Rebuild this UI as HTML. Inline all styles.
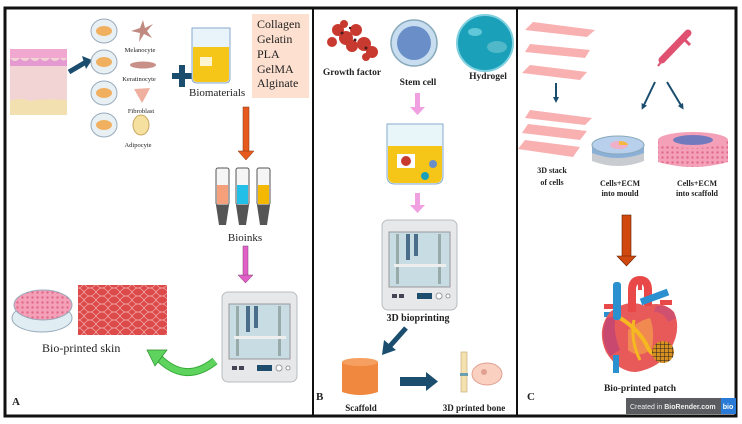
<!DOCTYPE html>
<html><head><meta charset="utf-8"><style>
html,body{margin:0;padding:0;background:#fff;}
svg{display:block;}
.s{font-family:"Liberation Serif",serif;fill:#222;}
.b{font-family:"Liberation Serif",serif;font-weight:bold;fill:#222;}
</style></head><body>
<svg width="742" height="424" viewBox="0 0 742 424" xmlns="http://www.w3.org/2000/svg">
<defs>
<pattern id="mesh" width="12" height="8" patternUnits="userSpaceOnUse">
<rect width="12" height="8" fill="#dd4a4a"/>
<path d="M0 4 Q3 0 6 0 Q9 0 12 4 M0 4 Q3 8 6 8 Q9 8 12 4" stroke="#f6c0c0" stroke-width="0.6" fill="none"/>
</pattern>
<pattern id="dots" width="5" height="5" patternUnits="userSpaceOnUse">
<rect width="5" height="5" fill="#f4a0b8"/><circle cx="2.5" cy="2.5" r="1.2" fill="#e06a8a"/>
</pattern>
<pattern id="grid" width="4" height="4" patternUnits="userSpaceOnUse">
<rect width="4" height="4" fill="#d89020"/><path d="M0 0H4M0 0V4" stroke="#222" stroke-width="1"/>
</pattern>
<g id="printer">
<rect x="0" y="0" width="75" height="90" rx="6" fill="#e6e8ea" stroke="#b8bcc0"/>
<rect x="7" y="12" width="61" height="55" fill="#c8dce4" stroke="#999"/>
<rect x="14" y="14" width="3" height="50" fill="#9aa"/>
<rect x="56" y="14" width="3" height="50" fill="#9aa"/>
<rect x="24" y="14" width="4" height="26" fill="#4a6d8a"/>
<rect x="32" y="14" width="4" height="22" fill="#4a6d8a"/>
<rect x="12" y="44" width="52" height="3" fill="#eee"/>
<rect x="10" y="74" width="5" height="4" fill="#445"/><rect x="17" y="74" width="5" height="4" fill="#445"/>
<rect x="35" y="73" width="15" height="6" fill="#1f4d6e"/>
<circle cx="57" cy="76" r="3" fill="#fff" stroke="#999"/><circle cx="66" cy="76" r="2" fill="#fff" stroke="#999"/>
</g>
<marker id="ab" viewBox="0 0 10 10" refX="5" refY="5" markerWidth="3" markerHeight="3" orient="auto"><path d="M0 0L10 5L0 10z" fill="#1a4d6e"/></marker>
</defs>

<rect x="5" y="8" width="731" height="408" fill="none" stroke="#111" stroke-width="3"/>
<line x1="313" y1="8" x2="313" y2="416" stroke="#111" stroke-width="2"/>
<line x1="517" y1="8" x2="517" y2="416" stroke="#111" stroke-width="2"/>

<!-- PANEL A -->
<rect x="10" y="49" width="57" height="66" fill="#f2d4d4"/>
<rect x="10" y="49" width="57" height="9" fill="#f0a8d0"/>
<path d="M10 58 Q15 64 20 58 Q25 64 30 58 Q35 64 40 58 Q45 64 50 58 Q55 64 60 58 Q64 63 67 58 V66 H10z" fill="#e49ad0"/>
<path d="M10 101 Q20 97 30 101 Q45 98 67 100 V115 H10z" fill="#f3e0b0"/>
<path d="M69 72 L86 62" stroke="#1a4d6e" stroke-width="5"/>
<path d="M82 56 L92 60 L86 69z" fill="#1a4d6e"/>
<g fill="#e8f0f4" stroke="#9ab">
<ellipse cx="104" cy="31" rx="13" ry="12"/><ellipse cx="104" cy="62" rx="13" ry="12"/>
<ellipse cx="104" cy="93" rx="13" ry="12"/><ellipse cx="104" cy="125" rx="13" ry="12"/>
</g>
<g fill="#f0b060"><ellipse cx="104" cy="31" rx="8" ry="5"/><ellipse cx="104" cy="62" rx="8" ry="5"/><ellipse cx="104" cy="93" rx="8" ry="5"/><ellipse cx="104" cy="125" rx="8" ry="5"/></g>
<path d="M143 20 L145 28 L153 24 L147 31 L152 38 L144 34 L139 42 L140 33 L131 31 L140 28z" fill="#c08a80"/>
<ellipse cx="143" cy="65" rx="13" ry="3.5" fill="#c89088"/>
<path d="M134 89 L150 88 L146 96 L142 103 L138 96z" fill="#f0b0a0"/>
<ellipse cx="141" cy="125" rx="8" ry="10" fill="#f5e0a0" stroke="#c8a860"/>
<g class="s" font-size="6.5" text-anchor="middle">
<text x="140" y="52">Melanocyte</text><text x="139" y="81">Keratinocyte</text>
<text x="141" y="113">Fibroblast</text><text x="138" y="147">Adipocyte</text></g>
<path d="M172 73 h7 v-8 h6 v8 h7 v6 h-7 v8 h-6 v-8 h-7z" fill="#1a4d6e"/>
<path d="M192 28 h38 v50 q0 5 -5 5 h-28 q-5 0 -5 -5z" fill="#e8f4fa" stroke="#8ac" stroke-width="1"/>
<path d="M193 47 h36 v31 q0 4 -4 4 h-28 q-4 0 -4 -4z" fill="#f5c518"/>
<rect x="200" y="57" width="12" height="9" fill="#fff" opacity="0.8"/>
<text class="s" x="189" y="96" font-size="11">Biomaterials</text>
<rect x="252" y="14" width="57" height="84" fill="#fde0d0"/>
<g class="s" font-size="12"><text x="257" y="28">Collagen</text><text x="257" y="43">Gelatin</text><text x="257" y="58">PLA</text><text x="257" y="73">GelMA</text><text x="257" y="87">Alginate</text></g>
<rect x="243" y="107" width="6" height="45" fill="#e65a1e" stroke="#803010" stroke-width="0.5"/>
<path d="M238 151 h16 l-8 9z" fill="#e65a1e" stroke="#803010" stroke-width="0.5"/>
<g stroke="#555" stroke-width="1">
<rect x="216" y="168" width="13" height="37" rx="2" fill="#f5f5f5"/><rect x="236" y="168" width="13" height="37" rx="2" fill="#f5f5f5"/><rect x="257" y="168" width="13" height="37" rx="2" fill="#f5f5f5"/></g>
<rect x="217" y="185" width="11" height="19" fill="#f5a07a"/><rect x="237" y="185" width="11" height="19" fill="#22c0e8"/><rect x="258" y="185" width="11" height="19" fill="#f5b800"/>
<g fill="#555"><path d="M216 205h13l-3 20h-7z"/><path d="M236 205h13l-3 20h-7z"/><path d="M257 205h13l-3 20h-7z"/></g>
<text class="s" x="245" y="241" font-size="11" text-anchor="middle">Bioinks</text>
<rect x="243" y="246" width="5" height="30" fill="#e060c8" stroke="#804070" stroke-width="0.5"/>
<path d="M238 275h15l-7.5 8z" fill="#e060c8" stroke="#804070" stroke-width="0.5"/>
<use href="#printer" x="222" y="292"/>
<path d="M215 361 Q185 385 158 357" stroke="#3a3" stroke-width="8" fill="none"/>
<path d="M215 361 Q185 385 158 357" stroke="#5ed45e" stroke-width="6" fill="none"/>
<path d="M147 350 L167 350 L155 366z" fill="#5ed45e" stroke="#2a8a2a" stroke-width="0.7"/>
<ellipse cx="42" cy="318" rx="30" ry="14" fill="#e0eef4" stroke="#9ab"/>
<ellipse cx="43" cy="305" rx="29" ry="15" fill="url(#dots)" stroke="#9ab"/>
<rect x="78" y="285" width="89" height="50" fill="url(#mesh)"/>
<text class="s" x="42" y="352" font-size="12">Bio-printed skin</text>
<text class="b" x="12" y="405" font-size="11">A</text>

<!-- PANEL B -->
<g fill="#c83a30"><circle cx="338" cy="30" r="6"/><circle cx="346" cy="38" r="7"/><circle cx="356" cy="30" r="6"/><circle cx="352" cy="46" r="6"/><circle cx="364" cy="44" r="7"/><circle cx="372" cy="52" r="6"/><circle cx="332" cy="42" r="5"/><circle cx="366" cy="57" r="4"/><circle cx="344" cy="24" r="4"/></g>
<g fill="#4a1a18"><circle cx="342" cy="33" r="1.5"/><circle cx="355" cy="40" r="1.5"/><circle cx="366" cy="48" r="1.5"/><circle cx="350" cy="28" r="1.2"/></g>
<circle cx="414" cy="43" r="23" fill="#c8ddf0" stroke="#8ab" stroke-width="1.5"/>
<circle cx="414" cy="43" r="17" fill="#6a8fc8"/>
<circle cx="485" cy="43" r="28" fill="#1aa0b8" stroke="#80d0e0" stroke-width="2"/>
<ellipse cx="475" cy="32" rx="7" ry="4" fill="#60c8d8"/><ellipse cx="497" cy="47" rx="10" ry="6" fill="#50b8c8"/>
<g class="b" font-size="9.5" text-anchor="middle"><text x="352" y="75">Growth factor</text><text x="418" y="85">Stem cell</text><text x="488" y="79">Hydrogel</text></g>
<rect x="415" y="93" width="5" height="15" fill="#f0a0e0"/><path d="M410 107h15l-7.5 8z" fill="#f0a0e0"/>
<path d="M387 124 h56 v52 q0 8 -8 8 h-40 q-8 0 -8 -8z" fill="#e8f6fa" stroke="#8ac"/>
<path d="M388 146 h54 v30 q0 7 -7 7 h-40 q-7 0 -7 -7z" fill="#f5c518"/>
<rect x="397" y="154" width="18" height="14" fill="#fff"/><circle cx="406" cy="161" r="5" fill="#c83a30"/>
<circle cx="433" cy="164" r="4" fill="#6a8fc8"/><circle cx="425" cy="176" r="4" fill="#1aa0b8"/>
<rect x="415" y="193" width="5" height="13" fill="#f0a0e0"/><path d="M410 205h15l-7.5 8z" fill="#f0a0e0"/>
<use href="#printer" x="382" y="220"/>
<text class="b" x="418" y="321" font-size="10" text-anchor="middle">3D bioprinting</text>
<path d="M406 328 L390 346" stroke="#1a4d6e" stroke-width="5"/>
<path d="M382 355 L384 340 L396 350z" fill="#1a4d6e"/>
<path d="M342 362 q18 -6 36 0 v30 q-18 6 -36 0z" fill="#f08840"/>
<ellipse cx="360" cy="362" rx="18" ry="4" fill="#f5a060"/>
<rect x="400" y="377" width="27" height="9" fill="#1a4d6e"/><path d="M426 372 L438 381.5 L426 391z" fill="#1a4d6e"/>
<path d="M461 352 h6 v40 h-6z" fill="#f5e0b0" stroke="#c8b080" stroke-width="0.7"/>
<rect x="460" y="373" width="8" height="3" fill="#6aa0b0"/>
<ellipse cx="487" cy="374" rx="15" ry="11" fill="#fad0c0" stroke="#e0a090"/><circle cx="484" cy="372" r="3" fill="#e0a090"/>
<g class="b" font-size="9" text-anchor="middle"><text x="361" y="411">Scaffold</text><text x="474" y="411">3D printed bone</text></g>
<text class="b" x="316" y="400" font-size="11">B</text>

<!-- PANEL C -->
<g fill="#f8b0b0"><path d="M533 22 L595 30 L587 37 L525 30z"/><path d="M530 44 L590 50 L585 58 L525 52z"/><path d="M530 65 L587 72 L580 80 L522 73z"/>
<path d="M530 110 L592 118 L585 125 L525 118z"/><path d="M528 124 L587 131 L580 140 L522 133z"/><path d="M525 140 L580 147 L573 157 L518 149z"/></g>
<path d="M556 83 V100" stroke="#1a4d6e" stroke-width="2" marker-end="url(#ab)"/>
<path d="M662 60 L688 33" stroke="#e05070" stroke-width="7" stroke-linecap="round"/>
<path d="M661 62 L658 66" stroke="#e05070" stroke-width="2"/>
<path d="M681 36 L690 45" stroke="#e05070" stroke-width="3"/>
<path d="M655 82 L643 107" stroke="#1a4d6e" stroke-width="2" marker-end="url(#ab)"/>
<path d="M667 82 L682 107" stroke="#1a4d6e" stroke-width="2" marker-end="url(#ab)"/>
<path d="M592 145 v16 q26 10 52 0 v-16z" fill="#c8ccd0"/>
<path d="M592 145 v8 q26 10 52 0 v-8z" fill="#8ab0d8"/>
<ellipse cx="618" cy="145" rx="26" ry="9" fill="#b8d0ec" stroke="#8ab"/>
<ellipse cx="619" cy="145" rx="9" ry="4" fill="#f0b0c8"/><path d="M619 141 a9 4 0 0 1 9 4 h-9z" fill="#f5b840"/>
<path d="M658 140 v22 q35 10 70 0 v-22z" fill="url(#dots)"/>
<ellipse cx="693" cy="140" rx="35" ry="8" fill="#f4a0b8"/>
<ellipse cx="693" cy="140" rx="20" ry="5" fill="#3a6ac0" opacity="0.7"/>
<g class="b" font-size="8" text-anchor="middle"><text x="552" y="173">3D stack</text><text x="552" y="185">of cells</text>
<text x="620" y="186">Cells+ECM</text><text x="620" y="196">into mould</text>
<text x="697" y="186">Cells+ECM</text><text x="697" y="196">into scaffold</text></g>
<rect x="622" y="215" width="9" height="42" fill="#d0480e" stroke="#602000" stroke-width="0.6"/>
<path d="M617 256 h19 l-9.5 10z" fill="#d0480e" stroke="#602000" stroke-width="0.6"/>
<!-- heart -->
<rect x="604" y="304" width="9" height="5" fill="#e84848"/>
<rect x="604" y="312" width="9" height="5" fill="#2a90d0"/>
<rect x="660" y="300" width="12" height="5" fill="#e84848"/>
<path d="M610 312 Q596 330 606 352 Q618 372 636 372 Q660 368 670 350 Q682 330 674 312 Q662 300 645 306 Q628 298 610 312z" fill="#e85a5a"/>
<path d="M607 318 Q598 336 610 356 L620 350 Q612 330 616 316z" fill="#c84870"/>
<path d="M656 306 Q672 304 676 318 L668 322 Q664 312 654 312z" fill="#d05070"/>
<path d="M628 330 Q640 320 650 318 Q655 330 652 348 Q640 360 628 350z" fill="#f08a50"/>
<path d="M620 318 Q640 330 648 348 Q656 362 666 346" stroke="#f5b820" stroke-width="4" fill="none"/>
<path d="M634 320 Q630 340 640 360" stroke="#f5b820" stroke-width="3" fill="none"/>
<path d="M632 312 V290 Q632 280 640 280 Q648 280 648 290 V306" stroke="#e84848" stroke-width="8" fill="none"/>
<rect x="638" y="278" width="4" height="12" fill="#e84848"/><rect x="644" y="280" width="4" height="11" fill="#e84848"/>
<rect x="613" y="282" width="8" height="38" rx="3" fill="#2a90d0"/>
<path d="M641 302 L668 292" stroke="#2a90d0" stroke-width="7"/>
<rect x="613" y="355" width="6" height="18" fill="#2a90d0"/>
<circle cx="663" cy="352" r="11" fill="url(#grid)"/>
<text class="b" x="640" y="391" font-size="9.5" text-anchor="middle">Bio-printed patch</text>
<text class="b" x="527" y="400" font-size="11">C</text>
<rect x="626" y="398" width="110" height="16" fill="#5a5c60"/>
<rect x="721" y="398" width="15" height="16" fill="#2a7ad8"/>
<text x="630" y="409" font-family="Liberation Sans, sans-serif" font-size="7" fill="#eee">Created in <tspan font-weight="bold">BioRender.com</tspan></text>
<text x="728" y="409" font-family="Liberation Sans, sans-serif" font-size="7" font-weight="bold" fill="#fff" text-anchor="middle">bio</text>
</svg>
</body></html>
